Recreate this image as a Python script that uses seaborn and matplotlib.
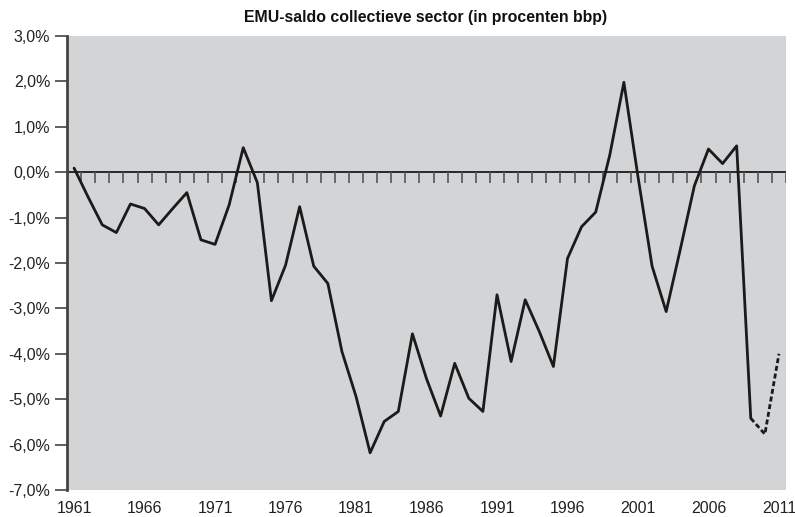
import numpy as np
import pandas as pd
import matplotlib
matplotlib.use('Agg')
import matplotlib.pyplot as plt
from matplotlib.ticker import FuncFormatter
import seaborn as sns

# data
years = list(range(1961, 2012))
saldo = [0.09, -0.55, -1.16, -1.33, -0.70, -0.80, -1.16, -0.80, -0.45, -1.49,
         -1.59, -0.72, 0.54, -0.23, -2.83, -2.05, -0.76, -2.07, -2.45, -3.95,
         -4.94, -6.18, -5.49, -5.27, -3.56, -4.55, -5.37, -4.21, -4.98, -5.27,
         -2.70, -4.17, -2.81, -3.51, -4.28, -1.90, -1.20, -0.88, 0.38, 1.98,
         -0.10, -2.07, -3.07, -1.70, -0.30, 0.51, 0.19, 0.58, -5.42, -5.77,
         -4.00]
last_actual = 2009
yticks = [3, 2, 1, 0, -1, -2, -3, -4, -5, -6, -7]
xticks = [1961, 1966, 1971, 1976, 1981, 1986, 1991, 1996, 2001, 2006, 2011]
title = 'EMU-saldo collectieve sector (in procenten bbp)'

df = pd.DataFrame({'jaar': years, 'saldo': saldo})
solid = df[df['jaar'] <= last_actual]
dashed = df[df['jaar'] >= last_actual]

sns.set_style('white')
plt.rcParams['font.family'] = ['Liberation Sans', 'DejaVu Sans']

fig = plt.figure(figsize=(7.95, 5.17), dpi=100)
ax = fig.add_axes([0.0843, 0.0522, 0.9044, 0.8782])
ax.set_facecolor('#d3d4d6')

# zero line with a tick at every year boundary
ax.axhline(0, color='#1a1a1a', lw=1.3, zorder=2)
bounds = np.arange(years[0] - 0.5, years[-1] + 1.0, 1.0)
ax.vlines(bounds, -0.23, 0, color='#555555', lw=1.2, zorder=2)

sns.lineplot(data=solid, x='jaar', y='saldo', ax=ax, color='#1a1a1a', lw=2.0, zorder=3)
sns.lineplot(data=dashed, x='jaar', y='saldo', ax=ax, color='#1a1a1a', lw=2.0,
             linestyle=(0, (1.8, 1.0)), zorder=3)

ax.set_xlim(years[0] - 0.5, years[-1] + 0.5)
ax.set_ylim(-7, 3)
ax.set_yticks(yticks)
ax.set_xticks(xticks)
ax.yaxis.set_major_formatter(FuncFormatter(lambda v, p: f'{v:.1f}%'.replace('.', ',')))
ax.tick_params(axis='y', length=9, width=1.2, color='#444444', pad=3, labelsize=11.5,
               labelcolor='#222222', left=True)
ax.tick_params(axis='x', length=0, pad=8, labelsize=11.5, labelcolor='#222222')
ax.set_xlabel('')
ax.set_ylabel('')

for s in ['top', 'right', 'bottom']:
    ax.spines[s].set_visible(False)
ax.spines['left'].set_color('#444444')
ax.spines['left'].set_linewidth(2)

fig.text(0.535, 0.967, title, ha='center', va='center', fontsize=11.4,
         fontweight='bold', color='#111111')

fig.savefig('out.png', dpi=100)
